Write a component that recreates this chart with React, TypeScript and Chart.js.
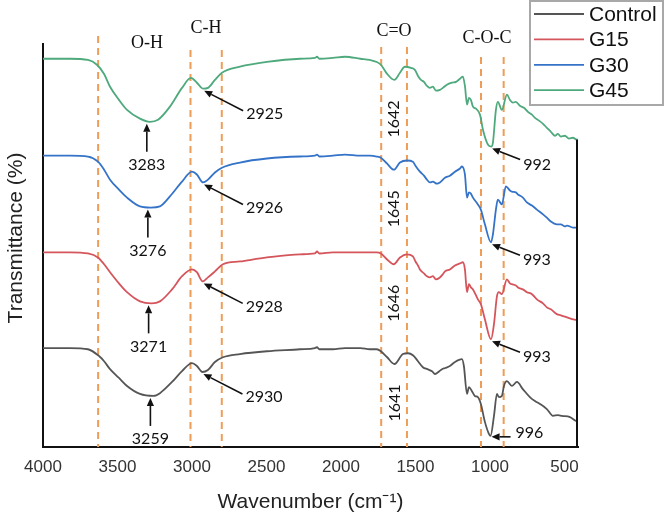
import React, { useEffect, useRef } from "react";
import { Chart, registerables } from "chart.js";

Chart.register(...registerables);

// ---------------- data ----------------
const seriesNames = ["Control", "G15", "G30", "G45"];

const controlData: [number, number][] = [
  [4000, 24.8], [3819, 24.8], [3698, 24.5], [3624, 22.8], [3590, 21.5], [3550, 19.5], [3490, 17.3], [3436, 15.3],
  [3349, 13.3], [3259, 12.8], [3215, 13.5], [3134, 16.3], [3067, 19.0], [3000, 21.0], [2967, 20.3], [2930, 18.8],
  [2893, 19.3], [2846, 21.3], [2792, 22.5], [2678, 23.3], [2497, 24.0], [2275, 24.5], [2175, 24.8], [2161, 25.0],
  [2145, 24.5], [2054, 24.5], [1973, 24.8], [1870, 24.8], [1806, 24.5], [1760, 24.5], [1732, 24.0], [1690, 22.5],
  [1641, 20.8], [1584, 23.3], [1550, 23.5], [1517, 23.0], [1483, 21.5], [1450, 20.0], [1420, 19.5], [1389, 19.0],
  [1369, 18.3], [1340, 19.0], [1322, 19.5], [1300, 19.8], [1269, 20.3], [1235, 21.3], [1188, 22.0], [1175, 20.3],
  [1154, 13.3], [1141, 15.0], [1121, 14.0], [1101, 12.8], [1081, 12.5], [1061, 10.8], [1034, 6.3], [1007, 3.3],
  [996, 2.8], [973, 7.8], [953, 13.3], [940, 12.5], [920, 12.8], [906, 15.3], [886, 16.5], [853, 15.3],
  [819, 16.3], [779, 14.5], [732, 12.5], [698, 11.5], [665, 10.8], [618, 9.5], [577, 7.8], [544, 8.0],
  [517, 7.8], [463, 7.5], [416, 6.5], [409, 6.5],
];

const g15Data: [number, number][] = [
  [4000, 48.8], [3819, 48.8], [3698, 48.5], [3631, 47.5], [3590, 45.8], [3550, 43.8], [3490, 41.0], [3436, 38.8],
  [3349, 36.5], [3271, 36.0], [3215, 36.5], [3134, 39.5], [3067, 42.8], [3000, 44.5], [2967, 43.8], [2928, 41.5],
  [2893, 42.5], [2846, 44.0], [2792, 45.8], [2678, 46.5], [2497, 47.5], [2275, 48.3], [2175, 48.5], [2161, 49.0],
  [2145, 48.5], [2054, 48.8], [1973, 48.8], [1870, 48.8], [1806, 48.8], [1760, 48.8], [1732, 48.5], [1690, 47.0],
  [1646, 45.8], [1604, 47.5], [1557, 48.3], [1517, 47.8], [1500, 46.5], [1483, 45.5], [1470, 44.5], [1443, 43.5],
  [1423, 42.8], [1403, 42.5], [1383, 42.8], [1363, 42.0], [1336, 42.5], [1316, 43.3], [1302, 44.0], [1269, 44.5],
  [1235, 45.5], [1201, 46.0], [1182, 46.3], [1168, 44.5], [1154, 38.8], [1141, 40.8], [1128, 40.0], [1114, 39.5],
  [1081, 37.0], [1061, 35.8], [1034, 32.0], [993, 27.0], [973, 30.8], [953, 37.8], [940, 38.8], [920, 38.3],
  [886, 42.0], [866, 41.0], [853, 40.8], [826, 40.5], [812, 40.0], [779, 39.5], [752, 38.8], [718, 38.3],
  [685, 37.0], [644, 36.0], [618, 35.0], [591, 34.5], [551, 33.3], [524, 33.0], [483, 32.5], [443, 32.0],
  [416, 31.8], [409, 31.8],
];

const g30Data: [number, number][] = [
  [4000, 73.0], [3819, 73.0], [3698, 72.8], [3631, 71.5], [3590, 69.5], [3550, 67.0], [3490, 64.5], [3436, 62.5],
  [3349, 60.3], [3276, 60.0], [3215, 60.3], [3148, 62.8], [3067, 66.5], [3000, 69.0], [2967, 68.3], [2926, 66.3],
  [2893, 67.0], [2846, 68.8], [2799, 70.0], [2678, 71.3], [2497, 72.3], [2275, 72.8], [2175, 73.0], [2161, 73.3],
  [2145, 72.8], [2054, 73.0], [1973, 73.3], [1870, 73.0], [1806, 73.0], [1760, 72.8], [1732, 72.5], [1690, 71.0],
  [1645, 69.5], [1604, 71.3], [1557, 71.8], [1517, 71.5], [1500, 70.5], [1470, 69.0], [1443, 68.0], [1423, 67.0],
  [1403, 66.3], [1383, 66.5], [1356, 66.0], [1336, 66.3], [1302, 67.5], [1269, 68.0], [1235, 69.0], [1201, 69.8],
  [1188, 70.3], [1168, 68.3], [1154, 62.5], [1141, 63.8], [1128, 63.5], [1114, 62.5], [1081, 60.8], [1061, 59.5],
  [1034, 55.8], [993, 51.3], [980, 53.3], [960, 59.5], [947, 62.0], [920, 60.8], [893, 65.3], [866, 64.3],
  [853, 64.0], [826, 63.8], [812, 63.3], [779, 62.5], [752, 61.3], [718, 60.5], [685, 59.5], [644, 58.3],
  [618, 57.5], [591, 56.5], [551, 55.8], [524, 55.8], [497, 55.3], [483, 55.5], [443, 55.0], [416, 55.0],
  [409, 55.0],
];

const g45Data: [number, number][] = [
  [4000, 97.3], [3819, 97.3], [3698, 97.0], [3638, 95.8], [3590, 93.5], [3550, 90.3], [3490, 87.0], [3436, 84.5],
  [3349, 82.3], [3283, 81.5], [3228, 82.0], [3148, 85.3], [3067, 90.0], [3007, 92.5], [2967, 91.3], [2925, 89.8],
  [2893, 90.0], [2846, 92.0], [2799, 93.8], [2678, 95.3], [2497, 96.5], [2275, 97.3], [2175, 97.5], [2161, 97.8],
  [2145, 97.3], [2054, 97.5], [1973, 97.8], [1870, 97.3], [1806, 97.0], [1760, 96.5], [1732, 95.8], [1690, 93.5],
  [1642, 92.0], [1604, 93.8], [1571, 95.3], [1530, 95.0], [1504, 94.5], [1483, 93.0], [1463, 92.0], [1443, 91.5],
  [1423, 90.5], [1403, 90.0], [1383, 90.3], [1363, 89.3], [1336, 89.5], [1316, 90.0], [1289, 90.8], [1255, 91.3],
  [1228, 91.5], [1201, 92.3], [1182, 92.8], [1168, 90.5], [1154, 85.8], [1141, 87.5], [1128, 87.0], [1114, 85.3],
  [1094, 84.8], [1067, 83.3], [1047, 79.5], [1014, 75.8], [992, 75.3], [980, 76.3], [960, 84.5], [947, 86.5],
  [920, 84.5], [886, 88.3], [866, 87.0], [846, 86.3], [826, 86.5], [799, 85.5], [772, 85.0], [745, 84.0],
  [718, 83.3], [698, 82.5], [671, 81.8], [644, 81.0], [618, 80.0], [591, 79.0], [564, 78.0], [544, 78.5],
  [524, 77.8], [497, 78.0], [470, 77.3], [443, 77.5], [416, 77.0], [409, 77.0],
];

const xTicks = [4000, 3500, 3000, 2500, 2000, 1500, 1000, 500];

// peak annotations, one per series (Control, G15, G30, G45)
const ohPeaks = [3259, 3271, 3276, 3283];
const chPeaks = [2930, 2928, 2926, 2925];
const coPeaks = [1641, 1646, 1645, 1642];
const cocPeaks = [996, 993, 993, 992];

// band guide lines & labels
const bandLines = [3630, 3010, 2800, 1730, 1557, 1060, 908];
const bandLabels = ["O-H", "C-H", "C=O", "C-O-C"];
const bandLabelAt = [3302, 2906, 1644, 1020];

// ---------------- styling ----------------
const allSeries = [controlData, g15Data, g30Data, g45Data];
const colors = ["#555555", "#d5555c", "#3473c8", "#4ea97c"];
const SANS = '"Liberation Sans", Arial, sans-serif';
const SERIF = '"Liberation Serif", "Times New Roman", serif';
const NUM = 'Lato, "Open Sans", sans-serif';

function interp(data: [number, number][], wn: number): number {
  for (let i = 0; i < data.length - 1; i++) {
    const [x0, y0] = data[i];
    const [x1, y1] = data[i + 1];
    if (wn <= x0 && wn >= x1) {
      const t = x0 === x1 ? 0 : (x0 - wn) / (x0 - x1);
      return y0 + (y1 - y0) * t;
    }
  }
  return data[data.length - 1][1];
}

function arrow(ctx: CanvasRenderingContext2D, x1: number, y1: number, x2: number, y2: number) {
  const ang = Math.atan2(y2 - y1, x2 - x1);
  const hl = 8;
  const hw = 3.6;
  const bx = x2 - hl * Math.cos(ang);
  const by = y2 - hl * Math.sin(ang);
  ctx.beginPath();
  ctx.moveTo(x1, y1);
  ctx.lineTo(bx, by);
  ctx.stroke();
  ctx.beginPath();
  ctx.moveTo(x2, y2);
  ctx.lineTo(bx + hw * Math.sin(ang), by - hw * Math.cos(ang));
  ctx.lineTo(bx - hw * Math.sin(ang), by + hw * Math.cos(ang));
  ctx.closePath();
  ctx.fill();
}

const bandLinesPlugin = {
  id: "bandLines",
  beforeDatasetsDraw(chart: any) {
    const { ctx, chartArea, scales } = chart;
    const xs = scales.x;
    const tops = [36, 50, 50, 47, 47, 57, 57];
    ctx.save();
    ctx.strokeStyle = "#ee9d58";
    ctx.lineWidth = 2;
    ctx.setLineDash([7, 5]);
    bandLines.forEach((wn, i) => {
      const x = xs.getPixelForValue(wn);
      ctx.beginPath();
      ctx.moveTo(x, tops[i]);
      ctx.lineTo(x, chartArea.bottom);
      ctx.stroke();
    });
    ctx.restore();
  },
};

const annotationPlugin = {
  id: "annotations",
  afterDraw(chart: any) {
    const { ctx, chartArea, scales } = chart;
    const xs = scales.x;
    const ys = scales.y;
    ctx.save();
    ctx.setLineDash([]);

    // right edge line from last point of top trace down to the axis
    const last = g45Data[g45Data.length - 1];
    const rx = Math.round(xs.getPixelForValue(last[0])) - 1;
    ctx.strokeStyle = "#111";
    ctx.lineWidth = 2;
    ctx.beginPath();
    ctx.moveTo(rx, ys.getPixelForValue(last[1]));
    ctx.lineTo(rx, chartArea.bottom + 1);
    ctx.stroke();

    ctx.strokeStyle = "#111";
    ctx.fillStyle = "#111";
    ctx.lineWidth = 1.6;
    ctx.font = `16px ${NUM}`;
    ctx.textBaseline = "middle";

    allSeries.forEach((data, i) => {
      // O-H
      {
        const wn = ohPeaks[i];
        const x = xs.getPixelForValue(wn) - 3;
        const y = ys.getPixelForValue(interp(data, wn));
        arrow(ctx, x, y + 30, x, y + 2);
        ctx.textAlign = "center";
        ctx.fillText(String(wn), x, y + 43);
      }
      // C-H
      {
        const wn = chPeaks[i];
        const x = xs.getPixelForValue(wn);
        const y = ys.getPixelForValue(interp(data, wn)) + 1;
        arrow(ctx, x + 40, y + 21, x + 1, y + 1);
        ctx.textAlign = "left";
        ctx.fillText(String(wn), x + 43, y + 24);
      }
      // C=O (rotated)
      {
        const wn = coPeaks[i];
        const x = xs.getPixelForValue(wn);
        const y = ys.getPixelForValue(interp(data, wn));
        ctx.save();
        ctx.translate(x, y + 39);
        ctx.rotate(-Math.PI / 2);
        ctx.textAlign = "center";
        ctx.fillText(String(wn), 0, 0);
        ctx.restore();
      }
      // C-O-C
      {
        const wn = cocPeaks[i];
        const x = xs.getPixelForValue(wn);
        const y = ys.getPixelForValue(interp(data, wn)) + 1;
        ctx.textAlign = "left";
        if (i === 0) {
          arrow(ctx, x + 20, y, x + 1, y);
          ctx.fillText(String(wn), x + 25, y - 4);
        } else {
          arrow(ctx, x + 29, y + 12, x + 1, y + 1);
          ctx.fillText(String(wn), x + 32, y + 17);
        }
      }
    });

    // band labels
    const labelY = [43, 28, 31, 38];
    ctx.font = `18px ${SERIF}`;
    ctx.textAlign = "center";
    bandLabels.forEach((t, i) => {
      ctx.fillText(t, xs.getPixelForValue(bandLabelAt[i]), labelY[i]);
    });

    // y title
    ctx.save();
    ctx.translate(16, 238);
    ctx.rotate(-Math.PI / 2);
    ctx.font = `21px ${SANS}`;
    ctx.fillStyle = "#222";
    ctx.textAlign = "center";
    ctx.fillText("Transmittance (%)", 0, 0);
    ctx.restore();

    // legend
    const lx = 530, ly = 1, lw = 133, lh = 104;
    ctx.fillStyle = "#fff";
    ctx.fillRect(lx, ly, lw, lh);
    ctx.strokeStyle = "#a8a8a8";
    ctx.lineWidth = 2;
    ctx.strokeRect(lx, ly, lw, lh);
    ctx.font = `21px ${SANS}`;
    ctx.textAlign = "left";
    seriesNames.forEach((name, i) => {
      const y = 14 + i * 25.4;
      ctx.strokeStyle = colors[i];
      ctx.lineWidth = 1.8;
      ctx.beginPath();
      ctx.moveTo(534, y);
      ctx.lineTo(584, y);
      ctx.stroke();
      ctx.fillStyle = "#111";
      ctx.fillText(name, 589, y + 1);
    });
    ctx.restore();
  },
};

export default function App() {
  const ref = useRef<HTMLCanvasElement>(null);
  useEffect(() => {
    if (!ref.current) return;
    const chart = new Chart(ref.current, {
      type: "line",
      data: {
        datasets: seriesNames.map((name, i) => ({
          label: name,
          data: allSeries[i].map(([x, y]) => ({ x, y })),
          borderColor: colors[i],
          backgroundColor: colors[i],
          borderWidth: 1.8,
          pointRadius: 0,
          fill: false,
          cubicInterpolationMode: "monotone" as const,
        })),
      },
      options: {
        animation: false,
        responsive: true,
        maintainAspectRatio: false,
        layout: { padding: { left: 0, right: 90, top: 44, bottom: 0 } },
        plugins: { legend: { display: false }, tooltip: { enabled: false } },
        scales: {
          x: {
            type: "linear",
            reverse: true,
            min: 409,
            max: 4000,
            afterBuildTicks: (s: any) => {
              s.ticks = xTicks.map((v) => ({ value: v }));
            },
            afterFit: (s: any) => {
              s.height = 70;
            },
            grid: { display: false, drawTicks: false },
            border: { display: true, color: "#111", width: 2 },
            ticks: {
              font: { family: SANS, size: 17 },
              color: "#333",
              padding: 10,
              maxRotation: 0,
              autoSkip: false,
              callback: (v: any) => String(v),
            },
            title: {
              display: true,
              text: "Wavenumber (cm⁻¹)",
              font: { family: SANS, size: 21 },
              color: "#222",
              padding: { top: 0, bottom: 2 },
            },
          },
          y: {
            min: 0,
            max: 101,
            afterFit: (s: any) => {
              s.width = 43;
            },
            grid: { display: false, drawTicks: false },
            ticks: { display: false },
            border: { display: true, color: "#111", width: 2 },
          },
        },
      },
      plugins: [bandLinesPlugin, annotationPlugin],
    });
    return () => chart.destroy();
  }, []);
  return (
    <div style={{ position: "fixed", left: 0, top: 0, width: 668, height: 517, background: "#fff" }}>
      <canvas ref={ref} />
    </div>
  );
}
